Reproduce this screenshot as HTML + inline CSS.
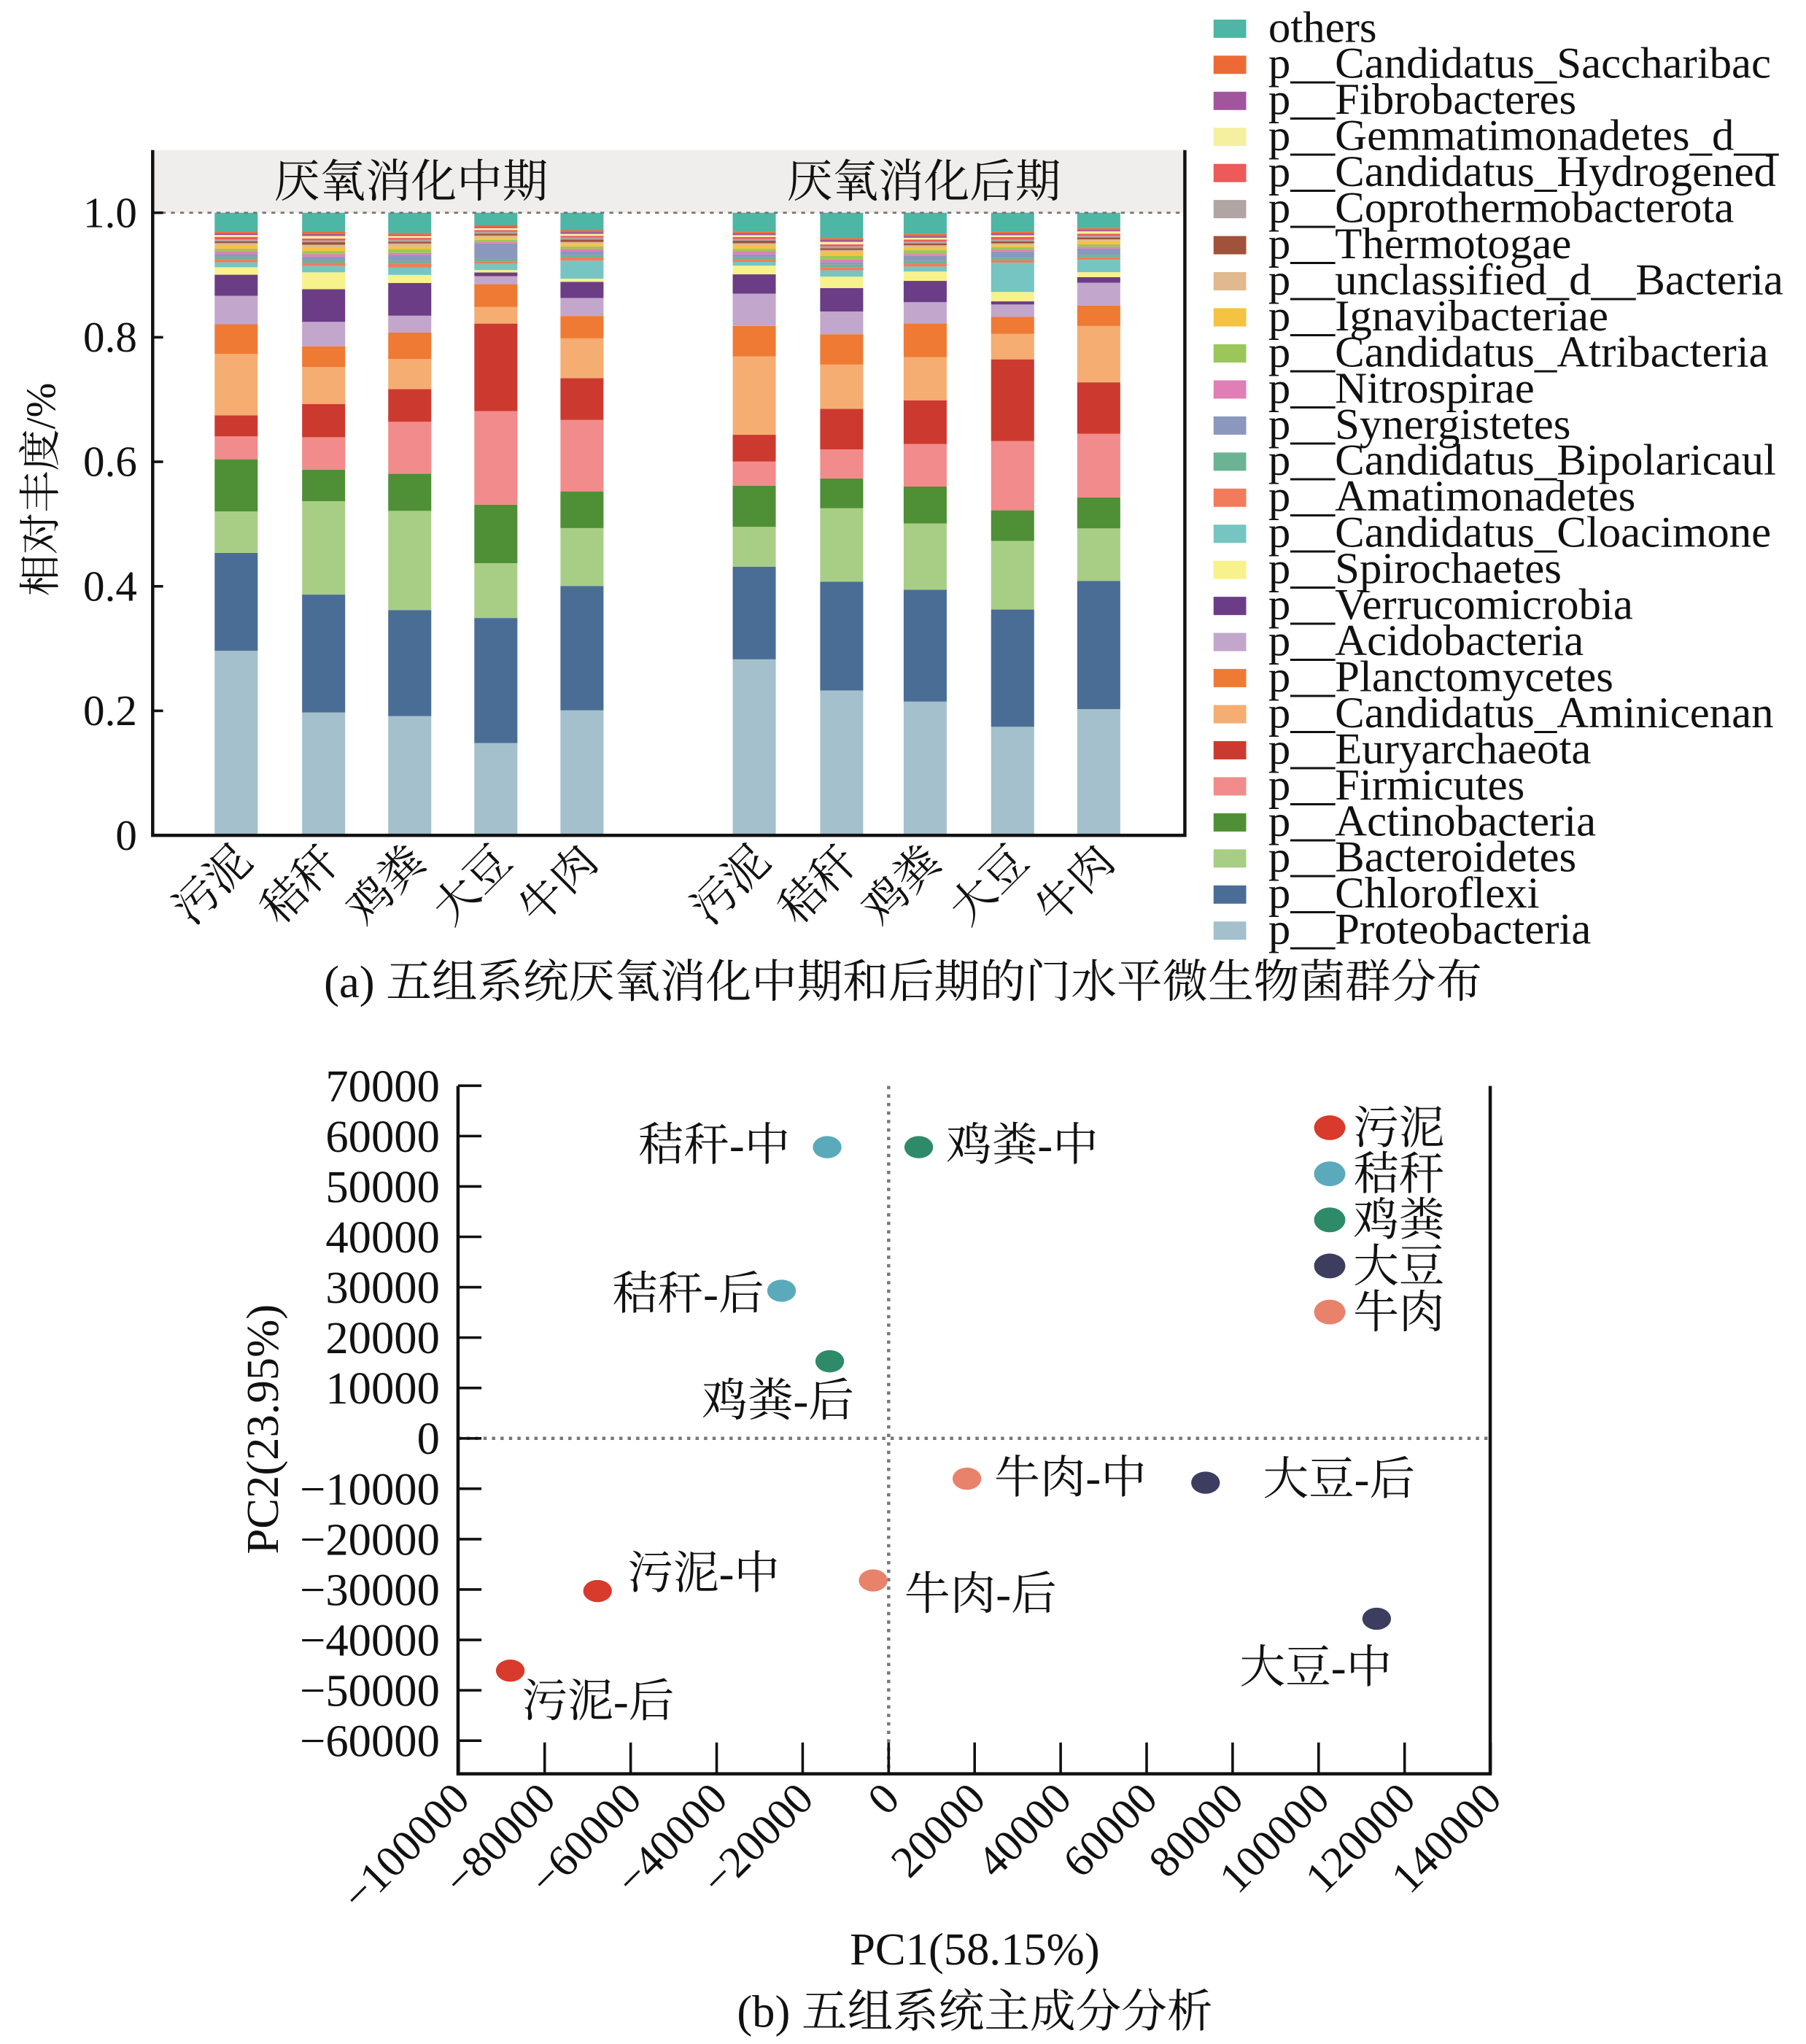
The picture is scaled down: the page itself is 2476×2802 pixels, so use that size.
<!DOCTYPE html>
<html><head><meta charset="utf-8"><style>
html,body{margin:0;padding:0;background:#fff}
svg{display:block}
text{font-family:"Liberation Serif","Noto Serif CJK SC","Noto Sans CJK SC",serif;fill:#111}
</style></head><body>
<svg id="fig" width="2476" height="2802" viewBox="0 0 1384 1566" preserveAspectRatio="none" xmlns="http://www.w3.org/2000/svg">
<g id="barchart"></g>
<g id="pca"></g>
</svg>
<script>
// ---------- Bar chart data ----------
const samples = ["污泥","秸秆","鸡粪","大豆","牛肉","污泥","秸秆","鸡粪","大豆","牛肉"];
const phyla = ["p__Proteobacteria","p__Chloroflexi","p__Bacteroidetes","p__Actinobacteria","p__Firmicutes","p__Euryarchaeota","p__Candidatus_Aminicenan","p__Planctomycetes","p__Acidobacteria","p__Verrucomicrobia","p__Spirochaetes","p__Candidatus_Cloacimone","p__Amatimonadetes","p__Candidatus_Bipolaricaul","p__Synergistetes","p__Nitrospirae","p__Candidatus_Atribacteria","p__Ignavibacteriae","p__unclassified_d__Bacteria","p__Thermotogae","p__Coprothermobacterota","p__Candidatus_Hydrogened","p__Gemmatimonadetes_d__","p__Fibrobacteres","p__Candidatus_Saccharibac","others"];
const colors = ["#a3c0cc","#4a6d96","#a8ce85","#4f8f36","#f28b8b","#cc3a2f","#f5ad72","#ef7a33","#c3a6cb","#6b3d86","#f7f28c","#76c5c2","#f07c5c","#6cb393","#8b97bd","#e07eb5","#9bc75a","#f5c242","#e0b98e","#a0523a","#b0a5a3","#ec5a5a","#f5f0a0","#a0559d","#ee6a35","#4db6a4"];
const vProteo = [.298,.196,.190,.150,.201,.283,.229,.214,.174,.204];
const vChloro = [.158,.188,.169,.203,.200,.149,.172,.179,.188,.207];
const vBact   = [.067,.149,.158,.089,.093,.064,.116,.106,.110,.085];
const vActino = [.084,.050,.059,.095,.059,.066,.047,.059,.049,.050];
const vFirm   = [.037,.052,.083,.152,.115,.039,.046,.068,.111,.103];
const vEury   = [.034,.053,.052,.142,.067,.043,.064,.070,.131,.083];
const vAmini  = [.099,.059,.048,.027,.064,.126,.070,.069,.041,.091];
const vPlanct = [.048,.033,.042,.037,.036,.049,.048,.054,.027,.033];
const vAcido  = [.046,.039,.027,.013,.029,.052,.036,.034,.020,.037];
const vVerru  = [.034,.052,.052,.006,.026,.031,.037,.034,.005,.009];
const vSpiro  = [.012,.027,.013,.004,.005,.014,.018,.015,.015,.008];
const vCloac  = [.008,.010,.012,.010,.029,.006,.010,.008,.047,.020];
const vAmati  = [.005,.005,.006,.004,.005,.004,.005,.005,.004,.004];
const vBipol  = [.004,.004,.004,.004,.004,.004,.004,.004,.004,.004];
const vSyner  = [.004,.006,.010,.025,.006,.004,.004,.008,.010,.010];
const vNitro  = [.005,.004,.003,.003,.004,.005,.004,.003,.003,.003];
const vAtrib  = [.004,.005,.006,.003,.004,.004,.006,.006,.004,.004];
const vIgnav  = [.005,.006,.004,.003,.004,.005,.006,.004,.003,.005];
const vUncl   = [.004,.004,.005,.004,.003,.004,.003,.004,.003,.003];
const vThermo = [.003,.004,.003,.003,.004,.004,.003,.003,.003,.003];
const vCopro  = [.003,.003,.003,.003,.003,.003,.003,.003,.003,.003];
const vHydro  = [.004,.003,.003,.003,.003,.003,.003,.003,.004,.003];
const vGemm   = [.003,.004,.003,.003,.003,.003,.004,.003,.003,.004];
const vFibro  = [.003,.003,.002,.002,.003,.003,.003,.003,.003,.002];
const vSacch  = [.003,.004,.003,.003,.003,.003,.003,.003,.003,.003];
const vOthers = [.030,.030,.032,.020,.028,.030,.040,.034,.030,.025];
const series = [vProteo,vChloro,vBact,vActino,vFirm,vEury,vAmini,vPlanct,vAcido,vVerru,vSpiro,vCloac,vAmati,vBipol,vSyner,vNitro,vAtrib,vIgnav,vUncl,vThermo,vCopro,vHydro,vGemm,vFibro,vSacch,vOthers];
const yTicks = [0,0.2,0.4,0.6,0.8,1.0];
const yTickLabels = ["0","0.2","0.4","0.6","0.8","1.0"];
const facets = ["厌氧消化中期","厌氧消化后期"];

// ---------- PCA data ----------
const pcaLabels = ["污泥-中","污泥-后","秸秆-中","秸秆-后","鸡粪-中","鸡粪-后","大豆-中","大豆-后","牛肉-中","牛肉-后"];
const pcaGroup = [0,0,1,1,2,2,3,3,4,4];
const pc1 = [-67700,-88000,-14300,-24900,7000,-13700,113500,73700,18200,-3600];
const pc2 = [-30300,-46100,57800,29300,57800,15300,-35800,-8800,-8000,-28200];
const groups = ["污泥","秸秆","鸡粪","大豆","牛肉"];
const groupColors = ["#d83a2c","#5aaabb","#2e8a68","#3d3d60","#e8826a"];
const xTicksPCA = [-100000,-80000,-60000,-40000,-20000,0,20000,40000,60000,80000,100000,120000,140000];
const yTicksPCA = [70000,60000,50000,40000,30000,20000,10000,0,-10000,-20000,-30000,-40000,-50000,-60000];

const NS="http://www.w3.org/2000/svg";
function mk(tag, attrs, parent){const e=document.createElementNS(NS,tag);for(const k in attrs)e.setAttribute(k,attrs[k]);parent.appendChild(e);return e;}

// ---------- draw bar chart ----------
const bc=document.getElementById('barchart');
const L=117,R=908,T=115,Y1=163,B=640;
const yS=v=>B-(B-Y1)*v;
const barX=[181,248,314,380,446,578,645,709,776,842];
const bw=33;
let st=mk('rect',{x:L,y:T,width:R-L,height:Y1-T,fill:'#f0eeed'},bc);


[315,708].forEach((cx,i)=>{const t=mk('text',{x:cx,y:151,'font-size':35,'text-anchor':'middle'},bc);t.textContent=facets[i];

});
for(let s=0;s<samples.length;s++){
  let tot=0;
  for(let p=0;p<series.length;p++) tot+=series[p][s];
  let cum=0;
  for(let p=0;p<series.length;p++){
    const v=series[p][s]/tot;
    const r=mk('rect',{x:barX[s]-bw/2,y:yS(cum+v),width:bw,height:yS(cum)-yS(cum+v),fill:colors[p]},bc);
    
    
    cum+=v;
  }
  const t=mk('text',{'font-size':34,'text-anchor':'end',transform:`translate(${barX[s]+14},${662}) rotate(-45)`},bc);
  t.textContent=samples[s];
  
  
}
let dl=mk('line',{x1:L,x2:R,y1:Y1,y2:Y1,stroke:'#777','stroke-width':1.5,'stroke-dasharray':'3,4'},bc);


let ax=mk('path',{d:`M${L},${T}V${B}H${R}V${T}`,fill:'none',stroke:'#111','stroke-width':2.5},bc);


yTicks.forEach((v,i)=>{
  mk('line',{x1:L,x2:L+8,y1:yS(v),y2:yS(v),stroke:'#111','stroke-width':2},bc);
  const t=mk('text',{x:105,y:yS(v)+11,'font-size':33,'text-anchor':'end'},bc);
  t.textContent=yTickLabels[i];
  
  
});
let yl=mk('text',{'font-size':32,'text-anchor':'middle',transform:'translate(42,375) rotate(-90)'},bc);
yl.textContent='相对丰度/%';


// legend (top = others)
for(let p=series.length-1,i=0;p>=0;p--,i++){
  const cy=22+i*27.64;
  const r=mk('rect',{x:930,y:cy-7,width:25,height:14,fill:colors[p]},bc);
  
  
  const t=mk('text',{x:972,y:cy+10,'font-size':34},bc);
  t.textContent=phyla[p];
  
  
}
let ca=mk('text',{x:692,y:764,'font-size':35,'text-anchor':'middle'},bc);
ca.textContent='(a) 五组系统厌氧消化中期和后期的门水平微生物菌群分布';



// ---------- draw PCA ----------
const pg=document.getElementById('pca');
const PL=351,PR=1142,PT=832,PB=1359;
const px=v=>681+v/20000*65.9;
const py=v=>1102-v/10000*38.6;
let vl=mk('line',{x1:px(0),x2:px(0),y1:PT,y2:PB,stroke:'#777','stroke-width':2.5,'stroke-dasharray':'2.5,4'},pg);


let hl=mk('line',{x1:PL,x2:PR,y1:py(0),y2:py(0),stroke:'#777','stroke-width':2.5,'stroke-dasharray':'2.5,4'},pg);


let pax=mk('path',{d:`M${PL},${PT}V${PB}H${PR}V${PT}`,fill:'none',stroke:'#111','stroke-width':2.5},pg);


yTicksPCA.forEach(v=>{
  mk('line',{x1:PL,x2:PL+18,y1:py(v),y2:py(v),stroke:'#111','stroke-width':2},pg);
  const t=mk('text',{x:337,y:py(v)+12,'font-size':35,'text-anchor':'end'},pg);
  t.textContent=(v<0?'−'+(-v):String(v));
  
  
});
xTicksPCA.forEach(v=>{
  mk('line',{x1:px(v),x2:px(v),y1:PB,y2:PB-24,stroke:'#111','stroke-width':2},pg);
  const t=mk('text',{'font-size':34,'text-anchor':'end',transform:`translate(${px(v)+10},${1380}) rotate(-45)`},pg);
  t.textContent=(v<0?'−'+(-v):String(v));
  
  
});
// label offsets (layout only)
const lblDx=[23,9,-145,-130,21,-98,-105,44,21,24];
const lblDy=[-2,35,10,14,10,42,49,9,11,22];
for(let i=0;i<pc1.length;i++){
  const e=mk('ellipse',{cx:px(pc1[i]),cy:py(pc2[i]),rx:11,ry:8.5,fill:groupColors[pcaGroup[i]]},pg);
  
  
  const t=mk('text',{x:px(pc1[i])+lblDx[i],y:py(pc2[i])+lblDy[i],'font-size':35},pg);
  t.textContent=pcaLabels[i];
  
  
}
groups.forEach((g,i)=>{
  const cy=864+i*35.3;
  const e=mk('ellipse',{cx:1019,cy:cy,rx:12,ry:9.5,fill:groupColors[i]},pg);
  
  
  const t=mk('text',{x:1037,y:cy+12,'font-size':35},pg);
  t.textContent=g;
  
  
});
let x1=mk('text',{x:747,y:1505,'font-size':35,'text-anchor':'middle'},pg);
x1.textContent='PC1(58.15%)';


let y2=mk('text',{'font-size':35,'text-anchor':'middle',transform:'translate(213,1095) rotate(-90)'},pg);
y2.textContent='PC2(23.95%)';


let cb=mk('text',{x:747,y:1553,'font-size':35,'text-anchor':'middle'},pg);
cb.textContent='(b) 五组系统主成分分析';


</script>
</body></html>
